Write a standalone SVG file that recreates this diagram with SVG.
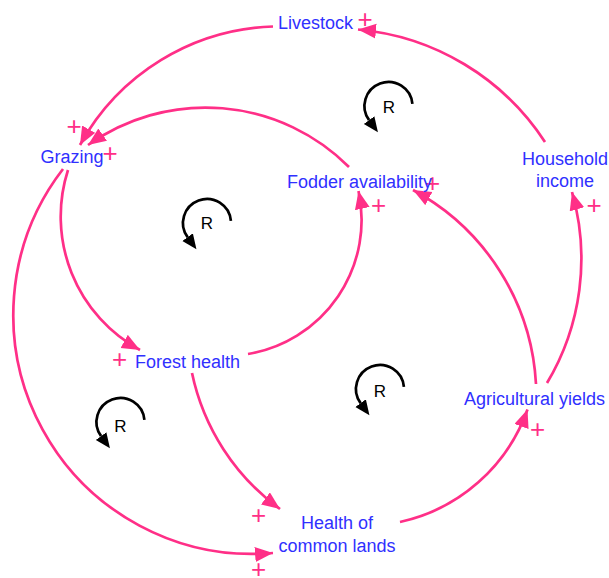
<svg xmlns="http://www.w3.org/2000/svg" width="609" height="578" viewBox="0 0 609 578">
<style>
.lbl{font-family:"Liberation Sans",Arial,sans-serif;font-size:18px;fill:#3030ff;text-anchor:middle}
.pol{font-family:"Liberation Sans",Arial,sans-serif;font-size:26px;fill:#ff2f87;text-anchor:middle}
.rl{font-family:"Liberation Sans",Arial,sans-serif;font-size:17px;fill:#000;text-anchor:middle}
.link{fill:none;stroke:#ff2f87;stroke-width:2.7;marker-end:url(#ah)}
.loop{fill:none;stroke:#000;stroke-width:2.7;marker-end:url(#lh)}
</style>
<defs>
<marker id="ah" markerUnits="userSpaceOnUse" markerWidth="20" markerHeight="16" refX="18" refY="7.5" orient="auto"><path d="M0,0 L18,7.5 L0,15 z" fill="#ff2f87"/></marker>
<marker id="lh" markerUnits="userSpaceOnUse" markerWidth="16" markerHeight="14" refX="0" refY="6.5" orient="auto"><path d="M0,0 L15,6.5 L0,13 z" fill="#000"/></marker>
</defs>
<rect width="609" height="578" fill="#fff"/>
<g id="connectors">
<path class="link" d="M545,142 A250,250 0 0 0 358,29.5"/>
<path class="link" d="M273,26.5 A229,229 0 0 0 80,145"/>
<path class="link" d="M349,167 A203,203 0 0 0 88,145"/>
<path class="link" d="M68,170 A152,152 0 0 0 140,350"/>
<path class="link" d="M63,169 A239,239 0 0 0 273,553"/>
<path class="link" d="M248,354 A136,136 0 0 0 358.5,191"/>
<path class="link" d="M192,373 A226,226 0 0 0 280,509"/>
<path class="link" d="M400,522 A175,175 0 0 0 527.5,409.5"/>
<path class="link" d="M536,384 A235,235 0 0 0 413,190"/>
<path class="link" d="M547,383 A242,242 0 0 0 572,192"/>
</g>
<g id="polarities">
<text class="pol" x="365" y="27.5">+</text>
<text class="pol" x="74" y="134.5">+</text>
<text class="pol" x="110" y="162">+</text>
<text class="pol" x="378.5" y="214">+</text>
<text class="pol" x="432.5" y="191.7">+</text>
<text class="pol" x="594" y="214">+</text>
<text class="pol" x="119.5" y="368">+</text>
<text class="pol" x="537.5" y="438">+</text>
<text class="pol" x="258.5" y="524">+</text>
<text class="pol" x="258.5" y="578">+</text>
</g>
<g id="loops">
<g id="loop1"><path class="loop" d="M230.9,220.9 A24,24 0 1 0 187.6,237.1"/><text class="rl" x="207" y="228.5">R</text></g>
<g id="loop2"><path class="loop" d="M412.4,103.9 A24,24 0 1 0 369.1,120.1"/><text class="rl" x="389" y="112.7">R</text></g>
<g id="loop3"><path class="loop" d="M144.4,419.9 A24,24 0 1 0 101.1,436.1"/><text class="rl" x="120.5" y="431.5">R</text></g>
<g id="loop4"><path class="loop" d="M403.9,386.9 A24,24 0 1 0 360.6,403.1"/><text class="rl" x="380" y="397">R</text></g>
</g>
<g id="livestock"><text class="lbl" x="315.5" y="29.3">Livestock</text></g>
<g id="grazing"><text class="lbl" x="72" y="163">Grazing</text></g>
<g id="fodder"><text class="lbl" x="359.5" y="188.3">Fodder availability</text></g>
<g id="household"><text class="lbl" x="565" y="165">Household</text><text class="lbl" x="565" y="186.7">income</text></g>
<g id="forest"><text class="lbl" x="187.5" y="368.3">Forest health</text></g>
<g id="agri"><text class="lbl" x="534.5" y="405">Agricultural yields</text></g>
<g id="commons"><text class="lbl" x="337" y="529.3">Health of</text><text class="lbl" x="337" y="551.7">common lands</text></g>
</svg>
